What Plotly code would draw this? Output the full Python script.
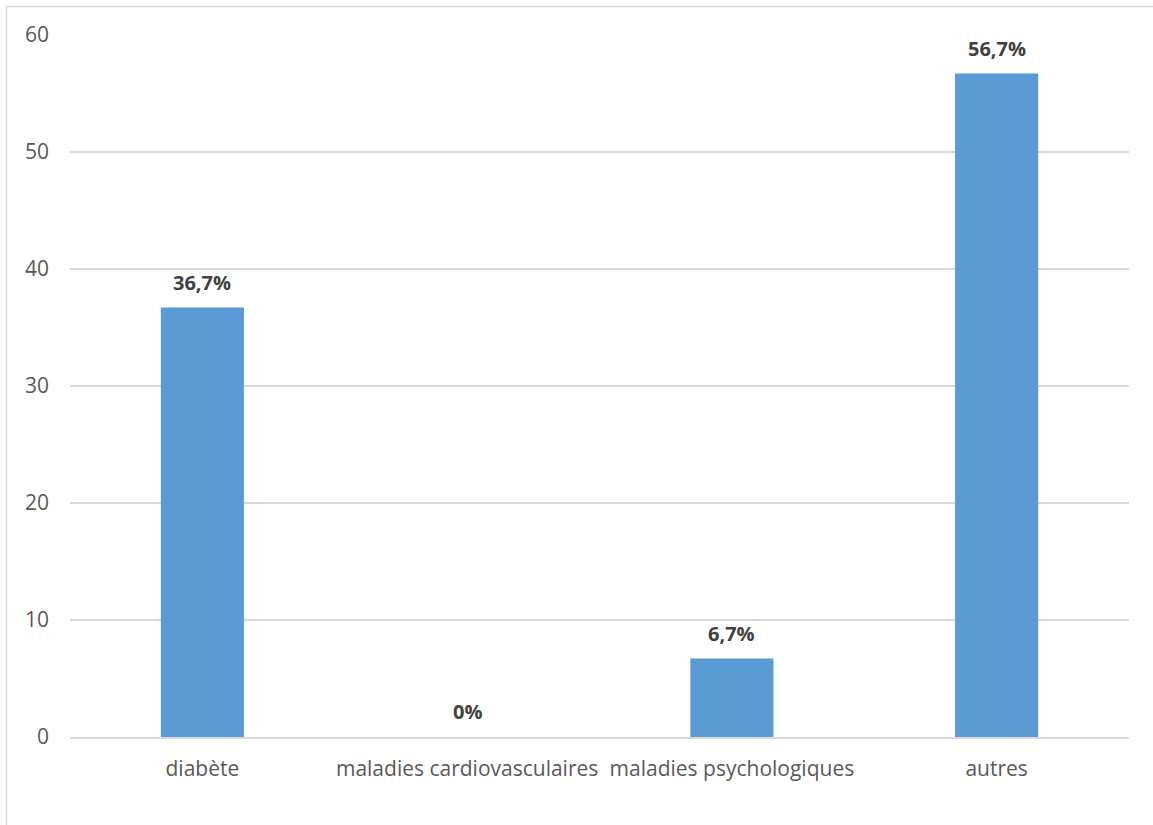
import plotly.graph_objects as go

categories = ["diabète", "maladies cardiovasculaires", "maladies psychologiques", "autres"]
values = [36.7, 0, 6.7, 56.7]
value_labels = ["36,7%", "0%", "6,7%", "56,7%"]
y_ticks = [0, 10, 20, 30, 40, 50, 60]

W, H = 1153, 825
ML, MR, MT, MB = 70, 24, 35, 88

fig = go.Figure()
fig.add_trace(go.Bar(
    x=categories,
    y=values,
    marker=dict(color="#5B9BD5", line=dict(width=0)),
    hoverinfo="x+y",
))

# value labels above each bar
for cat, val, lab in zip(categories, values, value_labels):
    fig.add_annotation(
        x=cat, y=val, text=f"<b>{lab}</b>", showarrow=False,
        yanchor="bottom", yshift=10,
        font=dict(family="Open Sans", size=20, color="#404040"),
    )

# outer chart frame
pw, ph = W - ML - MR, H - MT - MB
fx0 = (6.5 - ML) / pw
fy1 = (H - MB - 6.5) / ph
fig.add_shape(
    type="rect", xref="paper", yref="paper",
    x0=fx0, x1=1.2, y0=-0.3, y1=fy1,
    line=dict(color="#D9D9D9", width=1.5), layer="below",
)

fig.update_layout(
    width=W, height=H,
    margin=dict(l=ML, r=MR, t=MT, b=MB),
    paper_bgcolor="white", plot_bgcolor="white",
    bargap=0.686,
    showlegend=False,
    font=dict(family="Open Sans", size=21, color="#595959"),
    xaxis=dict(
        showgrid=False, showline=True, linecolor="#D9D9D9", linewidth=1.5,
        ticks="", ticklabelstandoff=12,
        tickfont=dict(family="Open Sans", size=21, color="#595959"),
    ),
    yaxis=dict(
        range=[0, 60], tickvals=y_ticks, showgrid=True,
        gridcolor="#D9D9D9", gridwidth=1.5, zeroline=False,
        showline=False, ticks="", ticklabelstandoff=20,
        tickfont=dict(family="Open Sans", size=21, color="#595959"),
    ),
)

fig.write_html("out.html")
